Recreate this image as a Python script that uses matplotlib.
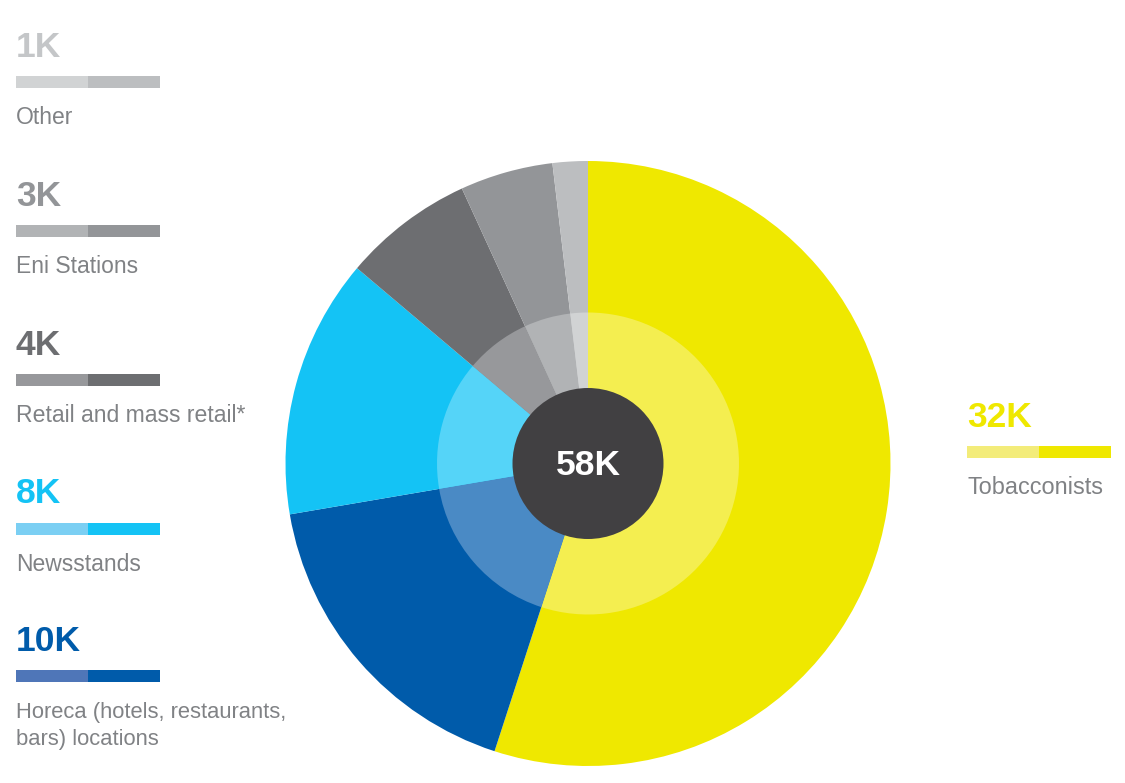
import matplotlib
matplotlib.use('Agg')
from matplotlib import pyplot as plt
from matplotlib.patches import Circle

plt.rcParams['font.family'] = ['Liberation Sans', 'DejaVu Sans']

# clockwise from the top, slice sizes
values = [31.9, 10.04, 8.04, 4.05, 2.88, 1.09]
value_labels = ['32K', '10K', '8K', '4K', '3K', '1K']
categories = ['Tobacconists', 'Horeca (hotels, restaurants,\nbars) locations', 'Newsstands',
              'Retail and mass retail*', 'Eni Stations', 'Other']
total_label = '58K'

outer_colors = ['#EFE800', '#005BAA', '#14C3F5', '#6D6E71', '#939598', '#BCBEC0']
inner_colors = ['#F4EE50', '#4A8AC5', '#55D4F8', '#97989B', '#B1B3B5', '#D1D3D4']
bar_left_colors = ['#F3EC7A', '#4F76B8', '#7BCFF3', '#97989B', '#B1B3B5', '#D1D3D4']
text_colors = ['#EFE800', '#005BAA', '#14C3F5', '#6D6E71', '#939598', '#C4C6C8']

W, H = 1125, 783
fig = plt.figure(figsize=(W / 100, H / 100), dpi=100, facecolor='white')

# pie axes, placed in pixels
cx, cy, R = 588, 463.5, 302.5
ax = fig.add_axes([(cx - R) / W, 1 - (cy + R) / H, 2 * R / W, 2 * R / H])
ax.pie(values, colors=outer_colors, startangle=90, counterclock=False, radius=1,
       wedgeprops={'linewidth': 0})
ax.pie(values, colors=inner_colors, startangle=90, counterclock=False, radius=151 / 302.5,
       wedgeprops={'linewidth': 0})
ax.add_patch(Circle((0, 0), 75.5 / 302.5, color='#414042', lw=0, zorder=5))
ax.text(0, -0.005, total_label, color='white', fontsize=25.5, fontweight='bold',
        ha='center', va='center', zorder=6)
ax.set_xlim(-1, 1)
ax.set_ylim(-1, 1)
ax.axis('off')

# legend blocks, pixel coordinates
lay = fig.add_axes([0, 0, 1, 1], zorder=-1)
lay.set_xlim(0, W)
lay.set_ylim(H, 0)
lay.axis('off')

left_x = [967, 16, 16, 16, 16, 16]
value_y = [427, 651, 503, 355, 206, 57]
bar_y = [452, 676, 529, 380, 231, 82]
label_y = [494, 718, 571, 422, 273, 124]
label_size = [16.9, 15.8, 16.5, 16.6, 16.5, 16.5]

for i in range(len(values)):
    x = left_x[i]
    lay.text(x, value_y[i], value_labels[i], color=text_colors[i], fontsize=25.5,
             fontweight='bold', va='baseline', ha='left')
    lay.barh(bar_y[i], 72, height=12, left=x, color=bar_left_colors[i], lw=0)
    lay.barh(bar_y[i], 72, height=12, left=x + 72, color=outer_colors[i], lw=0)
    lines = categories[i].split('\n')
    for j, line in enumerate(lines):
        lay.text(x, label_y[i] + j * 27, line, color='#808285', fontsize=label_size[i],
                 va='baseline', ha='left')

fig.savefig('out.png', dpi=100)
